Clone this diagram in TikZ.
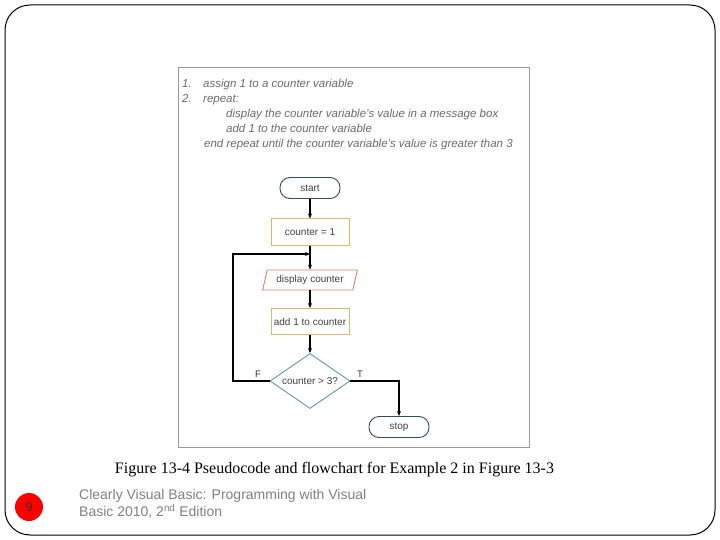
\documentclass[tikz,border=0pt]{standalone}
\usepackage{fontspec}
\setmainfont{Liberation Serif}
\setsansfont{Liberation Sans}
\usetikzlibrary{arrows.meta,shapes.geometric}
\definecolor{termc}{HTML}{2E4E5E}
\definecolor{procc}{HTML}{E2B763}
\definecolor{ioc}{HTML}{D8826E}
\definecolor{decc}{HTML}{5E9CA2}
\definecolor{framec}{HTML}{9A9A9A}
\definecolor{pseudoc}{HTML}{6A6A6A}
\definecolor{footc}{HTML}{808080}
\tikzset{
  fctext/.style={font=\sffamily\fontsize{10}{12}\selectfont,text=black!75},
  term/.style={draw=termc,line width=0.9pt,rounded corners=10pt,minimum width=60pt,minimum height=21pt,inner sep=0pt,fctext},
  proc/.style={draw=procc,line width=1pt,minimum width=78pt,minimum height=26pt,inner sep=0pt,fctext},
  iobox/.style={draw=ioc,line width=0.9pt,trapezium,trapezium left angle=69,trapezium right angle=111,minimum width=95pt,minimum height=20pt,inner sep=0pt,trapezium stretches=true,fctext},
  dec/.style={draw=decc,line width=0.9pt,diamond,minimum width=80pt,minimum height=55pt,aspect=1.45,inner sep=0pt,fctext},
  flow/.style={line width=1.4pt,-{Stealth[length=5pt,width=4pt]}},
  pseudo/.style={anchor=base west,inner sep=0pt,font=\sffamily\itshape\fontsize{11.5}{13}\selectfont,text=pseudoc},
  lbl/.style={inner sep=0pt,font=\sffamily\fontsize{9.5}{11}\selectfont,text=black!80}
}
\begin{document}
\begin{tikzpicture}[x=1pt,y=-1pt]
\useasboundingbox (0,0) rectangle (720,540);
% slide frame
\draw[line width=1pt,rounded corners=25pt] (5,5) rectangle (715,535);
% figure frame
\node[draw=framec,line width=0.8pt,minimum width=351pt,minimum height=380pt,inner sep=0pt] (fig) at (353.5,257) {};
% pseudocode
\node[pseudo] (p1) at (182,88) {\makebox[21pt][l]{1.}assign 1 to a counter variable};
\node[pseudo] (p2) at (182,103) {\makebox[21pt][l]{2.}repeat:};
\node[pseudo] (p3) at (226,118) {display the counter variable's value in a message box};
\node[pseudo] (p4) at (226,133) {add 1 to the counter variable};
\node[pseudo] (p5) at (204,148) {end repeat until the counter variable's value is greater than 3};
% flowchart
\node[term] (start) at (310,188) {start};
\node[proc] (init) at (310,232) {counter = 1};
\node[iobox] (disp) at (310,280) {display counter};
\node[proc] (add) at (310,321.5) {add 1 to counter};
\node[dec] (test) at (310,381) {counter > 3?};
\node[term] (stop) at (399,427) {stop};
\coordinate (join) at (310,254);
\coordinate (lc) at (233,381);
\coordinate (lt) at (233,254);
\coordinate (rc) at (399,381);
\draw[flow] (start) -- (init);
\draw[line width=1.4pt] (init) -- (join);
\draw[flow] (join) -- (disp);
\draw[flow] (disp) -- (add);
\draw[flow] (add) -- (test);
\draw[flow] (test.west) -- (lc) -- (lt) -- (join);
\draw[flow] (test.east) -- (rc) -- (stop.north);
\node[lbl] (f) at (258,374) {F};
\node[lbl] (t) at (360,374) {T};
% caption
\node[inner sep=0pt,font=\fontsize{16}{18}\selectfont] (cap) at (334.5,470) {Figure 13-4 Pseudocode and flowchart for Example 2 in Figure 13-3};
% page number
\node[circle,fill=red,minimum size=28pt,inner sep=0pt,font=\sffamily\fontsize{13}{15}\selectfont,text=black!80] (num) at (29,507) {9};
\node[anchor=north west,align=left,inner sep=0pt,text=footc,font=\sffamily\fontsize{14}{17}\selectfont] (foot) at (79,489.5) {Clearly Visual Basic: Programming with Visual\\Basic 2010, 2\textsuperscript{nd} Edition};
\end{tikzpicture}
\end{document}
